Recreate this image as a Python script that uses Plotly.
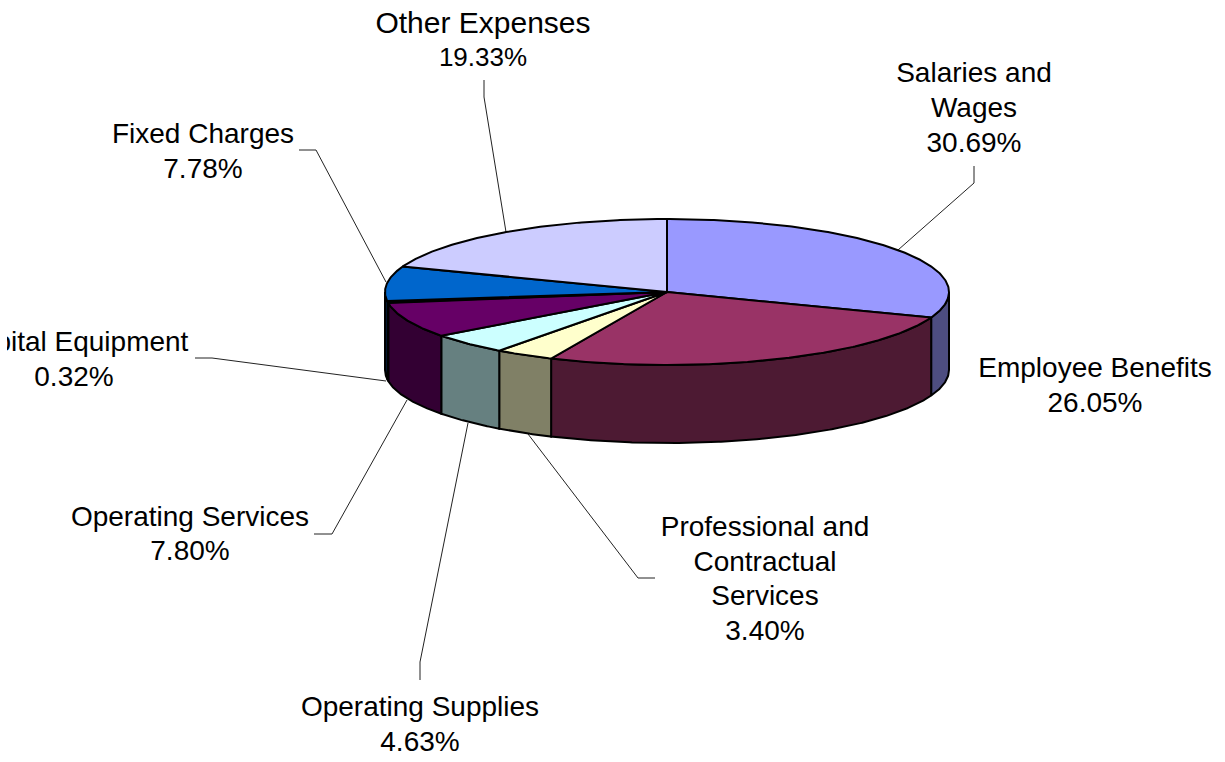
import numpy as np
import plotly.graph_objects as go

categories = ["Salaries and Wages", "Employee Benefits", "Professional and Contractual Services",
              "Operating Supplies", "Operating Services", "Capital Equipment", "Fixed Charges", "Other Expenses"]
values = [30.69, 26.05, 3.40, 4.63, 7.80, 0.32, 7.78, 19.33]
top_colors = ["#9999FF", "#993366", "#FFFFCC", "#CCFFFF", "#660066", "#006633", "#0066CC", "#CCCCFF"]
side_colors = ["#4D4D80", "#4D1A33", "#808066", "#668080", "#330033", "#003319", "#003366", "#666680"]

label_lines = [
    (["Salaries and", "Wages", "30.69%"], 974, [72, 107, 142], [28, 28, 28]),
    (["Employee Benefits", "26.05%"], 1095, [367, 402], [28, 28]),
    (["Professional and", "Contractual", "Services", "3.40%"], 765, [526, 561, 595, 630], [28, 28, 28, 28]),
    (["Operating Supplies", "4.63%"], 420, [706, 741], [28, 28]),
    (["Operating Services", "7.80%"], 190, [516, 550], [28, 28]),
    (["Capital Equipment", "0.32%"], 74, [341, 376], [28, 28]),
    (["Fixed Charges", "7.78%"], 203, [133, 168], [28, 28]),
    (["Other Expenses", "19.33%"], 483, [22, 56], [30, 26]),
]
leaders = [
    ([974, 974, 898], [166, 183, 250]),
    ([655, 638, 528], [578, 578, 434]),
    ([420, 420, 468], [680, 662, 423]),
    ([314, 332, 407], [534, 534, 400]),
    ([195, 212, 386], [358, 358, 381]),
    ([299, 316, 386], [150, 150, 282]),
    ([484, 484, 506], [80, 97, 232]),
]

CX, CY, RX, RY, DEPTH = 667, 292, 282, 73, 78
TEXT_DY = 3


def arc(a0, a1):
    t = np.radians(np.linspace(a0, a1, max(3, int(abs(a1 - a0) * 2))))
    return CX + RX * np.sin(t), CY - RY * np.cos(t)


edges = np.concatenate([[0], np.cumsum(values)]) / sum(values) * 360
fig = go.Figure()

# leader lines
for lx, ly in leaders:
    fig.add_trace(go.Scatter(x=lx, y=ly, mode="lines", line=dict(color="#222222", width=1), hoverinfo="skip"))

# outer wall
for i in range(len(values)):
    a0, a1 = max(edges[i], 90), min(edges[i + 1], 270)
    if a1 <= a0:
        continue
    x, y = arc(a0, a1)
    px = np.concatenate([x, x[::-1], x[:1]])
    py = np.concatenate([y, y[::-1] + DEPTH, y[:1]])
    fig.add_trace(go.Scatter(x=px, y=py, mode="lines", fill="toself", fillcolor=side_colors[i],
                             line=dict(color="black", width=2), hoverinfo="skip"))

# top face
for i in range(len(values)):
    x, y = arc(edges[i], edges[i + 1])
    px = np.concatenate([[CX], x, [CX]])
    py = np.concatenate([[CY], y, [CY]])
    fig.add_trace(go.Scatter(x=px, y=py, mode="lines", fill="toself", fillcolor=top_colors[i],
                             line=dict(color="black", width=2), hoverinfo="skip"))

# labels
tx, ty, tt, ts = [], [], [], []
for lines, xc, ys, sizes in label_lines:
    for s, yy, sz in zip(lines, ys, sizes):
        tx.append(xc)
        ty.append(yy + TEXT_DY)
        tt.append(s)
        ts.append(sz)
fig.add_trace(go.Scatter(x=tx, y=ty, text=tt, mode="text", textposition="middle center", cliponaxis=True,
                         textfont=dict(family="Liberation Sans, Arial, sans-serif", size=ts, color="black"),
                         hoverinfo="skip"))

fig.update_layout(
    width=1225, height=762, showlegend=False,
    margin=dict(l=7, r=0, t=0, b=0),
    paper_bgcolor="white", plot_bgcolor="white",
    xaxis=dict(range=[7, 1225], visible=False, fixedrange=True),
    yaxis=dict(range=[762, 0], visible=False, fixedrange=True),
)
fig.write_html("out.html", config={"displayModeBar": False},
               post_script="document.body.style.margin='0';document.documentElement.style.overflow='hidden';")
